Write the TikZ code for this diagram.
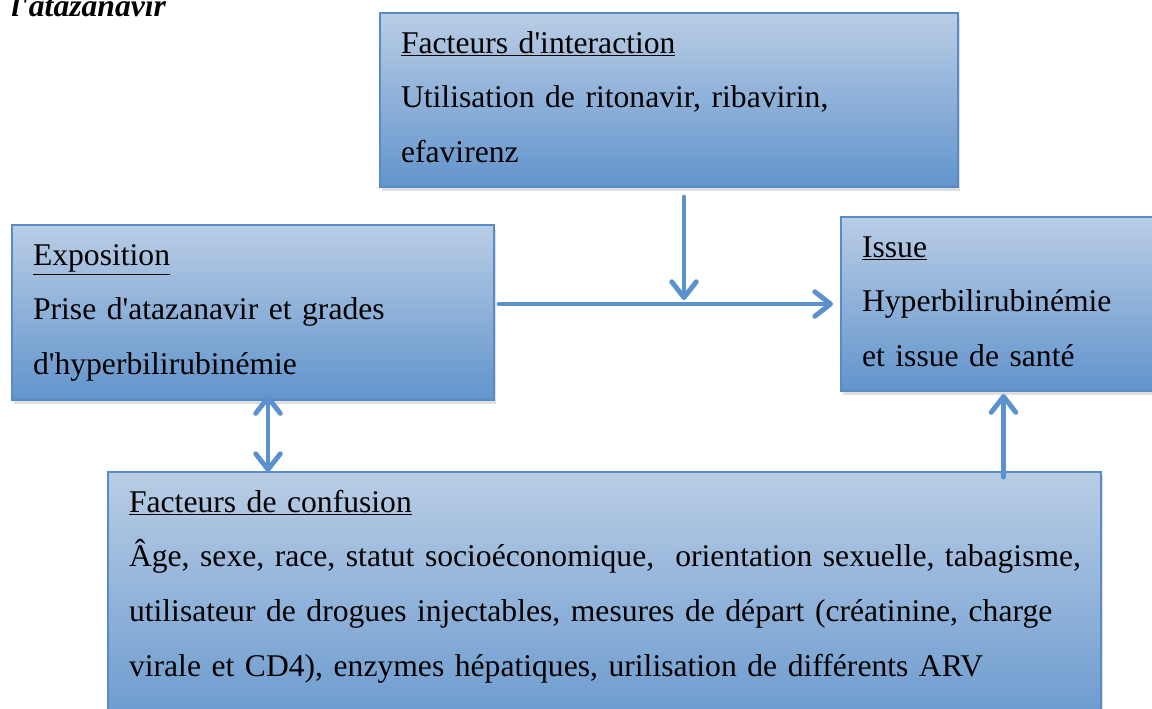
\documentclass[tikz,border=0pt]{standalone}
\usepackage{fontspec}
\setmainfont{Liberation Serif}
\usepackage{tikz}
\usetikzlibrary{arrows.meta, shadows}

\definecolor{boxtop}{RGB}{185,205,229}
\definecolor{boxbottom}{RGB}{98,148,204}
\definecolor{boxline}{RGB}{88,140,200}
\definecolor{flowblue}{RGB}{91,146,206}
\newcommand{\ap}{\textquotesingle}

\begin{document}
\begin{tikzpicture}[x=0.02cm, y=-0.02cm,
		box/.style={draw=boxline, line width=1.2pt, top color=boxtop, bottom color=boxbottom,
			drop shadow={shadow xshift=1pt, shadow yshift=-2.5pt, opacity=0.25},
			anchor=north west, align=left, inner xsep=0.42cm, inner ysep=0pt,
			text height=0.8cm, font=\fontsize{18}{31.2}\selectfont},
		>={Straight Barb[length=9pt, width=14pt, round]},
		flow/.style={draw=flowblue, line width=2.8pt, line cap=round, ->}]
			\useasboundingbox (0,0) rectangle (1152,708);
			
			% Title, cut at the top
			\node[anchor=base west, inner sep=0pt, font=\fontsize{18}{20}\selectfont\bfseries\itshape] (titre) at (11,16) {l\ap atazanavir};
			
			% Boxes
			\node[box, text width=10.72cm, text depth=2.68cm] (inter) at (379,12)
				{\mbox{\underline{Facteurs d\ap interaction}}\\ \mbox{Utilisation de ritonavir, ribavirin,}\\ \mbox{efavirenz}};
			\node[box, text width=8.8cm, text depth=2.7cm] (expo) at (11,224)
				{\mbox{\underline{Exposition}}\\ \mbox{Prise d\ap atazanavir et grades}\\ \mbox{d\ap hyperbilirubinémie}};
			\node[box, text width=5.66cm, text depth=2.68cm] (issue) at (840,216)
				{\mbox{\underline{Issue}}\\ \mbox{Hyperbilirubinémie}\\ \mbox{et issue de santé}};
			\node[box, text width=19.02cm, text depth=4.8cm] (conf) at (107,471)
				{\mbox{\underline{Facteurs de confusion}}\\
				 \mbox{Âge, sexe, race, statut socioéconomique,\ \ orientation sexuelle, tabagisme,}\\
				 \mbox{utilisateur de drogues injectables, mesures de départ (créatinine, charge}\\
				 \mbox{virale et CD4), enzymes hépatiques, urilisation de différents ARV}};
			
			% Arrows
			\coordinate (meet) at (684,304);
			\draw[flow, shorten <=0.08cm, shorten >=0.14cm] (expo.east |- meet) -- (issue.west |- meet);
			\draw[flow, shorten <=0.18cm, shorten >=0.08cm] (inter.south -| meet) -- (meet);
			\draw[flow, <->, shorten <=-0.12cm, shorten >=-0.02cm] ([xshift=0.3cm]expo.south) -- ([xshift=0.3cm]expo.south |- conf.north);
			\draw[flow, shorten <=-0.12cm, shorten >=0.04cm] (issue.south |- conf.north) -- (issue.south);
			
		\end{tikzpicture}
\end{document}
